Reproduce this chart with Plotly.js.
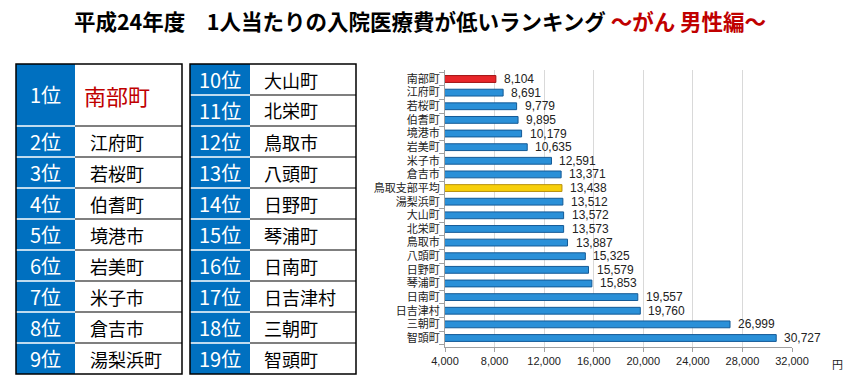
<!DOCTYPE html>
<html>
<head>
<meta charset="utf-8">
<script src="https://cdn.plot.ly/plotly-3.0.1.min.js"></script>
<style>html,body{margin:0;padding:0;background:#fff;}#chart{width:847px;height:385px;}</style>
</head>
<body>
<div id="chart"></div>
<script>
// ---- data ----
const categories = ['南部町','江府町','若桜町','伯耆町','境港市','岩美町','米子市','倉吉市','鳥取支部平均','湯梨浜町','大山町','北栄町','鳥取市','八頭町','日野町','琴浦町','日南町','日吉津村','三朝町','智頭町'];
const values = [8104,8691,9779,9895,10179,10635,12591,13371,13438,13512,13572,13573,13887,15325,15579,15853,19557,19760,26999,30727];
const averageLabel = '鳥取支部平均';
const rankNames = categories.filter(c => c !== averageLabel);
const xTickVals = [4000,8000,12000,16000,20000,24000,28000,32000];
const titleMain = '平成24年度　1人当たりの入院医療費が低いランキング ';
const titleSub = '～がん 男性編～';
const unitLabel = '円';

// ---- layout helpers (pixel -> paper) ----
const W = 847, H = 385;
const px = x => x / W;
const py = y => 1 - y / H;
const JP = '"Noto Sans CJK JP", "Noto Sans", sans-serif';

const barColors = categories.map((c, i) => c === averageLabel ? '#F7CF0A' : (i === 0 ? '#E8262A' : '#2A90D8'));
const barLines = categories.map((c, i) => c === averageLabel ? '#B8900A' : (i === 0 ? '#A01010' : '#145A96'));

const traces = [{
  type: 'bar', orientation: 'h',
  x: values, y: categories,
  marker: {color: barColors, line: {color: barLines, width: 1}},
  hoverinfo: 'skip'
}];

const shapes = [];
const annotations = [];

// tables
const rowTop = 64, rowH = 31, nRows = 10;
const tables = [
  {x0: 16, xm: 75, x1: 182, nameX: 88},
  {x0: 190, xm: 250, x1: 356, nameX: 262}
];
tables.forEach((t, ti) => {
  const yBot = rowTop + rowH * nRows;
  shapes.push({type: 'rect', xref: 'paper', yref: 'paper', x0: px(t.x0), x1: px(t.xm), y0: py(rowTop), y1: py(yBot), fillcolor: '#0070C0', line: {width: 0}, layer: 'above'});
  for (let r = 1; r < nRows; r++) {
    if (ti === 0 && r === 1) continue;
    const yy = py(rowTop + r * rowH);
    shapes.push({type: 'line', xref: 'paper', yref: 'paper', x0: px(t.x0), x1: px(t.xm), y0: yy, y1: yy, line: {color: '#ffffff', width: 1.5}, layer: 'above'});
    shapes.push({type: 'line', xref: 'paper', yref: 'paper', x0: px(t.xm), x1: px(t.x1), y0: yy, y1: yy, line: {color: '#000000', width: 1.2}, layer: 'above'});
  }
  shapes.push({type: 'rect', xref: 'paper', yref: 'paper', x0: px(t.x0), x1: px(t.x1), y0: py(rowTop), y1: py(yBot), line: {color: '#000000', width: 1.5}, layer: 'above'});
});

rankNames.forEach((name, i) => {
  const rank = i + 1;
  let t, cy, big = false;
  if (rank === 1) { t = tables[0]; cy = rowTop + rowH; big = true; }
  else if (rank < 10) { t = tables[0]; cy = rowTop + rowH * rank + rowH / 2; }
  else { t = tables[1]; cy = rowTop + rowH * (rank - 10) + rowH / 2; }
  annotations.push({xref: 'paper', yref: 'paper', x: px((t.x0 + t.xm) / 2), y: py(cy), text: rank + '位', showarrow: false, xanchor: 'center', yanchor: 'middle', font: {family: JP, size: 20, color: '#ffffff'}});
  annotations.push({xref: 'paper', yref: 'paper', x: px(big ? t.nameX - 6 : t.nameX), y: py(cy), text: name, showarrow: false, xanchor: 'left', yanchor: 'middle', font: {family: JP, size: big ? 22 : 18, color: big ? '#C00000' : '#000000'}});
});

// value labels
values.forEach((v, i) => {
  annotations.push({x: v, y: categories[i], xref: 'x', yref: 'y', text: v.toLocaleString('en-US'), showarrow: false, xanchor: 'left', yanchor: 'middle', xshift: 6, font: {family: '"Liberation Sans", Arial, sans-serif', size: 12, color: '#222222'}});
});
annotations.push({xref: 'paper', yref: 'paper', x: px(837), y: py(364), text: unitLabel, showarrow: false, xanchor: 'center', yanchor: 'middle', font: {family: JP, size: 11, color: '#222'}});

const layout = {
  width: W, height: H,
  margin: {l: 0, r: 0, t: 0, b: 0},
  paper_bgcolor: '#ffffff', plot_bgcolor: '#ffffff',
  showlegend: false,
  title: {text: titleMain + '<span style="color:#C00000">' + titleSub + '</span>', x: px(420), xanchor: 'center', xref: 'paper', y: py(22), yanchor: 'middle', yref: 'container', font: {family: JP, size: 21.5, color: '#000', weight: 'bold'}},
  bargap: 0.5,
  xaxis: {domain: [px(445), px(792)], range: [4000, 32000], tickvals: xTickVals, tickformat: ',d', showgrid: true, gridcolor: '#D9D9D9', gridwidth: 1, zeroline: false, showline: true, linecolor: '#A0A0A0', ticks: 'outside', ticklen: 4, tickcolor: '#A0A0A0', tickfont: {family: '"Liberation Sans", Arial, sans-serif', size: 11, color: '#222'}, fixedrange: true},
  yaxis: {domain: [1 - 347 / H, 1 - 70 / H], type: 'category', autorange: 'reversed', tickmode: 'array', tickvals: categories, ticktext: categories, showgrid: false, showline: true, linecolor: '#A0A0A0', ticks: 'outside', tickson: 'boundaries', ticklen: 5, tickcolor: '#A0A0A0', tickfont: {family: JP, size: 11, color: '#222'}, ticklabelstandoff: 2, fixedrange: true},
  shapes: shapes,
  annotations: annotations
};

Plotly.newPlot('chart', traces, layout, {displayModeBar: false, staticPlot: true});
</script>
</body>
</html>
